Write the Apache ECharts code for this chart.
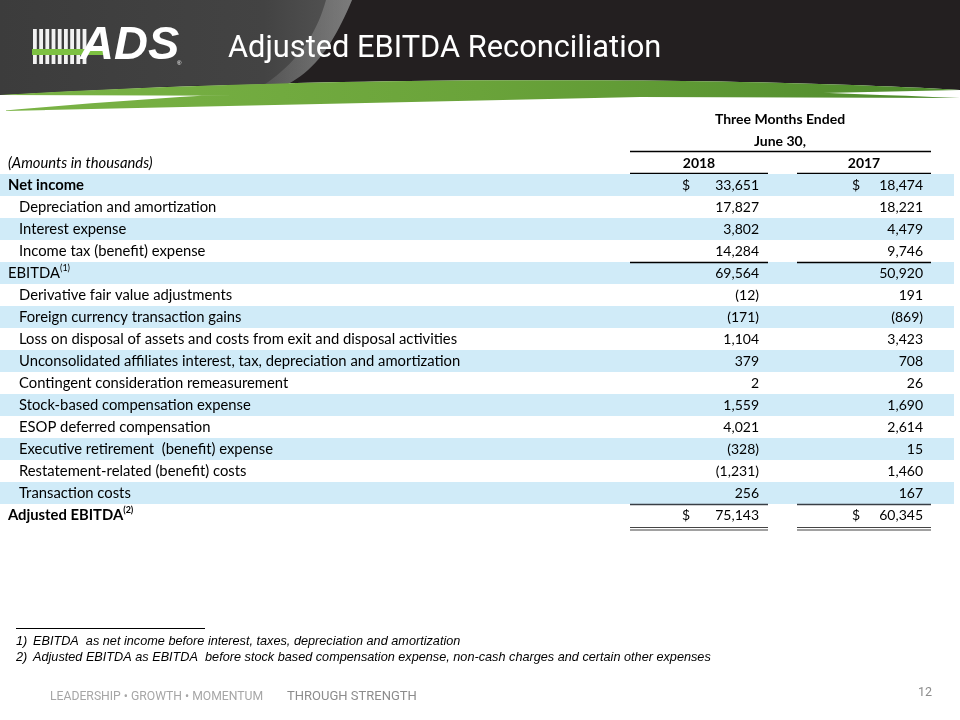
<!DOCTYPE html>
<html>
<head>
<meta charset="utf-8">
<script src="https://cdn.jsdelivr.net/npm/echarts@6/dist/echarts.min.js"></script>
<style>html,body{margin:0;padding:0;background:#fff}#main{width:960px;height:720px}</style>
</head>
<body>
<div id="main"></div>
<script>
const titleText = 'Adjusted EBITDA Reconciliation';
const periodHeader = ['Three Months Ended', 'June 30,'];
const yearLabels = ['2018', '2017'];
const unitsNote = '(Amounts in thousands)';
const rowLabels = [
  'Net income',
  'Depreciation and amortization',
  'Interest expense',
  'Income tax (benefit) expense',
  'EBITDA',
  'Derivative fair value adjustments',
  'Foreign currency transaction gains',
  'Loss on disposal of assets and costs from exit and disposal activities',
  'Unconsolidated affiliates interest, tax, depreciation and amortization',
  'Contingent consideration remeasurement',
  'Stock-based compensation expense',
  'ESOP deferred compensation',
  'Executive retirement  (benefit) expense',
  'Restatement-related (benefit) costs',
  'Transaction costs',
  'Adjusted EBITDA'
];
const rowNotes = ['', '', '', '', '(1)', '', '', '', '', '', '', '', '', '', '', '(2)'];
const rowIndent = [0, 1, 1, 1, 0, 1, 1, 1, 1, 1, 1, 1, 1, 1, 1, 0];
const boldRows = [0, 15];
const dollarRows = [0, 15];
const values2018 = [33651, 17827, 3802, 14284, 69564, -12, -171, 1104, 379, 2, 1559, 4021, -328, -1231, 256, 75143];
const values2017 = [18474, 18221, 4479, 9746, 50920, 191, -869, 3423, 708, 26, 1690, 2614, 15, 1460, 167, 60345];
const footnotes = [
  ['1)', 'EBITDA  as net income before interest, taxes, depreciation and amortization'],
  ['2)', 'Adjusted EBITDA as EBITDA  before stock based compensation expense, non-cash charges and certain other expenses']
];
const footerLeft = 'LEADERSHIP \u2022 GROWTH \u2022 MOMENTUM';
const footerRight = 'THROUGH STRENGTH';
const pageNumber = '12';

const FONT = 'Lato';
const BAND = '#d0ebf8';

function fmt(v) {
  const s = Math.abs(v).toLocaleString('en-US');
  return v < 0 ? '(' + s + ')' : s;
}
function bez(p0, p1, p2, p3, n) {
  const pts = [];
  for (let k = 0; k <= n; k++) {
    const t = k / n, u = 1 - t;
    pts.push([
      u * u * u * p0[0] + 3 * u * u * t * p1[0] + 3 * u * t * t * p2[0] + t * t * t * p3[0],
      u * u * u * p0[1] + 3 * u * u * t * p1[1] + 3 * u * t * t * p2[1] + t * t * t * p3[1]
    ]);
  }
  return pts;
}
function lin(x1, y1, x2, y2, c) {
  return {type: 'linear', x: x1, y: y1, x2: x2, y2: y2, colorStops: c};
}

const chart = echarts.init(document.getElementById('main'), null, {renderer: 'canvas'});

function renderRow(params, api) {
  const i = api.value(1);
  const c = api.coord([0, i]);
  const h = api.size([0, 1])[1];
  const yTop = c[1] - h / 2;
  const yMid = c[1];
  const X = v => api.coord([v, i])[0];
  const bold = boldRows.indexOf(i) >= 0;
  const children = [];
  if (i % 2 === 0) {
    children.push({type: 'rect', shape: {x: X(0), y: yTop, width: X(954) - X(0), height: h}, style: {fill: BAND}, silent: true});
  }
  const lbl = rowLabels[i];
  const note = rowNotes[i];
  children.push({
    type: 'text',
    style: {
      x: X(rowIndent[i] ? 19 : 8), y: yMid,
      text: note ? '{m|' + lbl + '}{s|' + note + '}' : '{m|' + lbl + '}',
      verticalAlign: 'middle', align: 'left',
      rich: {
        m: {fontFamily: FONT, fontSize: 14.8, fontWeight: bold ? 'bold' : 'normal', fill: '#000', lineHeight: 18},
        s: {fontFamily: FONT, fontSize: 9, fontWeight: bold ? 'bold' : 'normal', fill: '#000', lineHeight: 11, verticalAlign: 'top'}
      }
    }
  });
  const cols = [[values2018, 759, 682], [values2017, 923, 852]];
  cols.forEach(function (col) {
    const v = col[0][i];
    children.push({type: 'text', style: {x: X(col[1]), y: yMid, text: fmt(v), align: 'right', verticalAlign: 'middle', fontFamily: FONT, fontSize: 14, fill: '#000'}});
    if (dollarRows.indexOf(i) >= 0) {
      children.push({type: 'text', style: {x: X(col[2]), y: yMid, text: '$', align: 'left', verticalAlign: 'middle', fontFamily: FONT, fontSize: 14, fill: '#000'}});
    }
  });
  const spans = [[630, 768], [797, 931]];
  if (i === 4 || i === 15) {
    spans.forEach(function (sp) {
      children.push({type: 'line', shape: {x1: X(sp[0]), y1: yTop + 0.5, x2: X(sp[1]), y2: yTop + 0.5}, style: {stroke: i === 15 ? '#3a3f45' : '#000', lineWidth: 1.3}});
    });
  }
  if (i === 15) {
    spans.forEach(function (sp) {
      children.push({type: 'line', shape: {x1: X(sp[0]), y1: yTop + h + 1.5, x2: X(sp[1]), y2: yTop + h + 1.5}, style: {stroke: '#444', lineWidth: 1.2}});
      children.push({type: 'line', shape: {x1: X(sp[0]), y1: yTop + h + 4, x2: X(sp[1]), y2: yTop + h + 4}, style: {stroke: '#444', lineWidth: 1.2}});
    });
  }
  return {type: 'group', children: children};
}

// header shapes (decoration)
const darkBottom = bez([960, 90], [760, 78], [360, 74], [0, 95], 48);
const greenBottom = bez([0, 111], [300, 84], [520, 80], [960, 98], 48);
const darkPoly = [[0, 0], [960, 0]].concat(darkBottom);
const greenPoly = darkBottom.slice().reverse().concat(greenBottom);
const texEdge = bez([352, 0], [335, 40], [318, 68], [288, 84], 20);
const texPoly = [[0, 0]].concat(texEdge, [[180, 86], [0, 95]]);
const swoosh = texEdge.concat(bez([262, 86], [296, 64], [316, 36], [326, 0], 20));

const logoBars = [];
for (let k = 0; k < 9; k++) {
  logoBars.push({type: 'rect', shape: {x: 33 + k * 6.2, y: 29, width: 3.8, height: 35}, style: {fill: '#f2f2f2'}, z: 12});
}

const option = {
  animation: false,
  backgroundColor: '#ffffff',
  grid: {left: 0, right: 0, top: 174, height: 22 * rowLabels.length, containLabel: false},
  xAxis: {type: 'value', min: 0, max: 960, show: false},
  yAxis: {type: 'category', data: rowLabels, inverse: true, show: false},
  series: [{
    type: 'custom',
    renderItem: renderRow,
    data: rowLabels.map((l, i) => [0, i]),
    encode: {x: 0, y: 1},
    silent: true,
    clip: false
  }],
  graphic: [
    {type: 'polygon', shape: {points: darkPoly}, style: {fill: '#231f20'}, z: 5},
    {type: 'polygon', shape: {points: texPoly}, style: {fill: lin(0, 0, 1, 0, [{offset: 0, color: '#3c3c3c'}, {offset: 0.75, color: '#434343'}, {offset: 1, color: '#555555'}])}, z: 6},
    {type: 'polygon', shape: {points: swoosh}, style: {fill: lin(0, 0, 1, 0, [{offset: 0, color: 'rgba(170,170,170,0.15)'}, {offset: 1, color: 'rgba(170,170,170,0.45)'}])}, z: 7},
    {type: 'polygon', shape: {points: greenPoly}, style: {fill: lin(0, 0, 1, 0, [{offset: 0, color: '#7bb446'}, {offset: 0.5, color: '#6aa33a'}, {offset: 1, color: '#4e8a2c'}])}, z: 8},
    ...logoBars,
    {type: 'rect', shape: {x: 32, y: 49, width: 72, height: 6}, style: {fill: '#7dc142'}, z: 13},
    {type: 'text', style: {x: 80, y: 46, text: 'ADS', fontFamily: 'Liberation Sans', fontWeight: 'bold', fontStyle: 'italic', fontSize: 47, fill: '#ffffff', verticalAlign: 'middle', align: 'left'}, z: 14},
    {type: 'text', style: {x: 177, y: 63, text: '\u00ae', fontFamily: 'Liberation Sans', fontSize: 6, fill: '#ffffff', verticalAlign: 'middle'}, z: 14},
    {type: 'text', style: {x: 228, y: 49, text: titleText, fontFamily: 'Roboto', fontSize: 30.8, fill: '#ffffff', verticalAlign: 'middle', align: 'left'}, z: 14},
    {type: 'text', style: {x: 780, y: 119, text: periodHeader[0], fontFamily: FONT, fontWeight: 'bold', fontSize: 14, fill: '#000', align: 'center', verticalAlign: 'middle'}},
    {type: 'text', style: {x: 780, y: 141, text: periodHeader[1], fontFamily: FONT, fontWeight: 'bold', fontSize: 14, fill: '#000', align: 'center', verticalAlign: 'middle'}},
    {type: 'line', shape: {x1: 630, y1: 151.5, x2: 931, y2: 151.5}, style: {stroke: '#000', lineWidth: 1.5}},
    {type: 'text', style: {x: 8, y: 163, text: unitsNote, fontFamily: FONT, fontStyle: 'italic', fontSize: 14.8, fill: '#000', align: 'left', verticalAlign: 'middle'}},
    {type: 'text', style: {x: 699, y: 163, text: yearLabels[0], fontFamily: FONT, fontWeight: 'bold', fontSize: 14, fill: '#000', align: 'center', verticalAlign: 'middle'}},
    {type: 'text', style: {x: 864, y: 163, text: yearLabels[1], fontFamily: FONT, fontWeight: 'bold', fontSize: 14, fill: '#000', align: 'center', verticalAlign: 'middle'}},
    {type: 'line', shape: {x1: 630, y1: 173.5, x2: 768, y2: 173.5}, style: {stroke: '#000', lineWidth: 1.5}},
    {type: 'line', shape: {x1: 797, y1: 173.5, x2: 931, y2: 173.5}, style: {stroke: '#000', lineWidth: 1.5}},
    {type: 'line', shape: {x1: 16, y1: 628.5, x2: 205, y2: 628.5}, style: {stroke: '#000', lineWidth: 1}},
    {type: 'text', style: {x: 16, y: 641, text: footnotes[0][0], fontFamily: 'Liberation Sans', fontStyle: 'italic', fontSize: 12.7, fill: '#000', verticalAlign: 'middle'}},
    {type: 'text', style: {x: 33, y: 641, text: footnotes[0][1], fontFamily: 'Liberation Sans', fontStyle: 'italic', fontSize: 12.7, fill: '#000', verticalAlign: 'middle'}},
    {type: 'text', style: {x: 16, y: 657, text: footnotes[1][0], fontFamily: 'Liberation Sans', fontStyle: 'italic', fontSize: 12.7, fill: '#000', verticalAlign: 'middle'}},
    {type: 'text', style: {x: 33, y: 657, text: footnotes[1][1], fontFamily: 'Liberation Sans', fontStyle: 'italic', fontSize: 12.7, fill: '#000', verticalAlign: 'middle'}},
    {type: 'text', style: {x: 50, y: 697, text: footerLeft, fontFamily: 'Roboto', fontSize: 12.2, fill: '#a6a6a6', verticalAlign: 'middle'}},
    {type: 'text', style: {x: 287, y: 697, text: footerRight, fontFamily: 'Roboto', fontSize: 13, fill: '#8c8c8c', verticalAlign: 'middle'}},
    {type: 'text', style: {x: 932, y: 693, text: pageNumber, fontFamily: 'Roboto', fontSize: 12.5, fill: '#8c8c8c', align: 'right', verticalAlign: 'middle'}}
  ]
};
chart.setOption(option);
</script>
</body>
</html>
